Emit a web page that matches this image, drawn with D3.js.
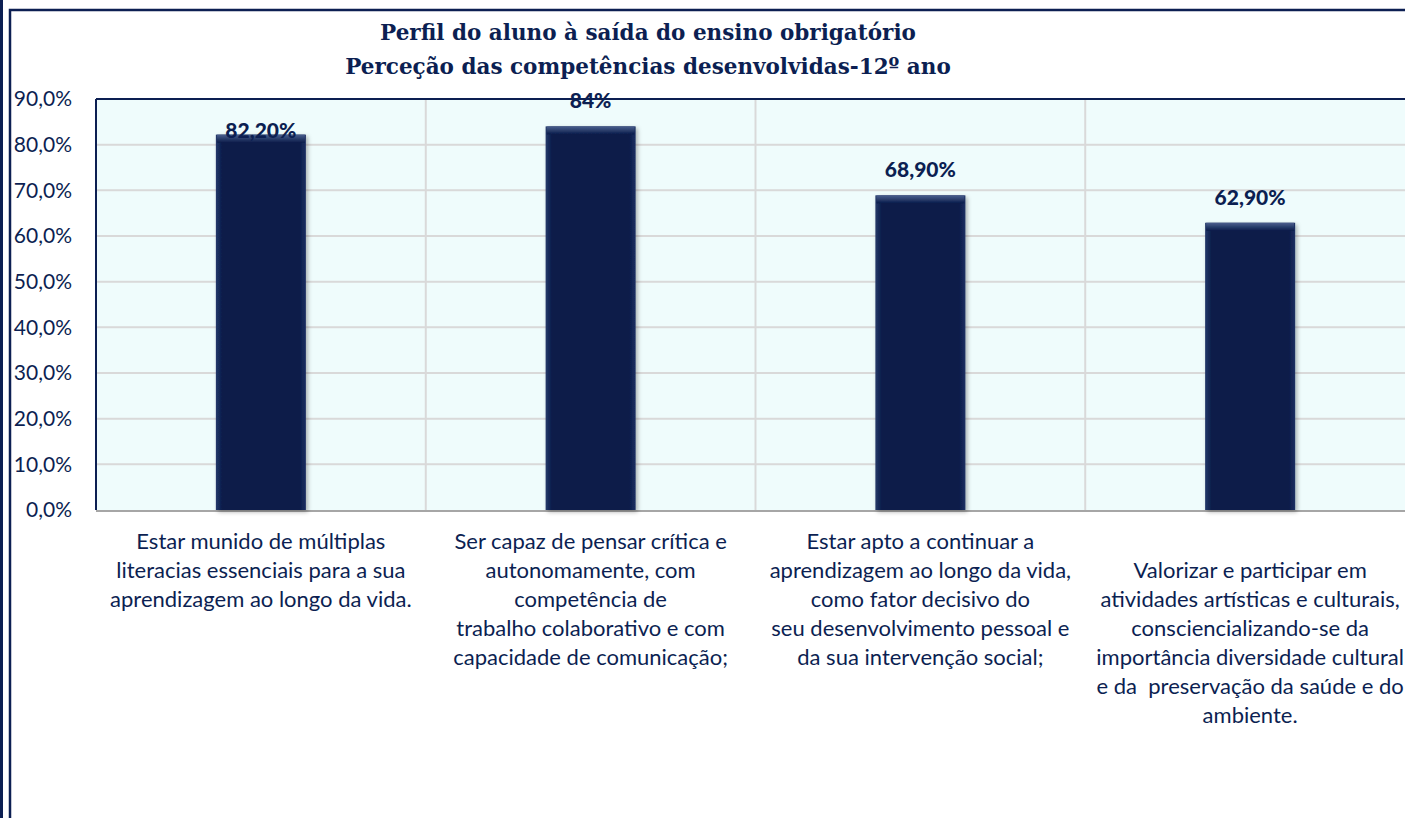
<!DOCTYPE html>
<html>
<head>
<meta charset="utf-8">
<script src="https://cdn.jsdelivr.net/npm/d3@7"></script>
<style>
  body { margin: 0; background: #fff; }
  svg { display: block; }
  .tick-label { font-family: Lato, "Open Sans", sans-serif; font-size: 21px; fill: #0c1f52; }
  .cat-label { font-family: Lato, "Open Sans", sans-serif; font-size: 22px; fill: #0c1f52; white-space: pre; }
  .value-label { font-family: Lato, "Open Sans", sans-serif; font-size: 21px; font-weight: 900; fill: #0c1f52; }
  .title { font-family: "DejaVu Serif", "Liberation Serif", serif; font-size: 21.5px; font-weight: bold; fill: #0c1f52; }
</style>
</head>
<body>
<svg id="chart" width="1405" height="818"></svg>
<script>
const titleLines = [
    "Perfil do aluno à saída do ensino obrigatório",
    "Perceção das competências desenvolvidas-12º ano"
];

const categories = [
    ["Estar munido de múltiplas", "literacias essenciais para a sua", "aprendizagem ao longo da vida."],
    ["Ser capaz de pensar crítica e", "autonomamente, com", "competência de", "trabalho colaborativo e com", "capacidade de comunicação;"],
    ["Estar apto a continuar a", "aprendizagem ao longo da vida,", "como fator decisivo do", "seu desenvolvimento pessoal e", "da sua intervenção social;"],
    ["", "Valorizar e participar em", "atividades artísticas e culturais,", "consciencializando-se da", "importância diversidade cultural", "e da  preservação da saúde e do", "ambiente."]
];

const values = [0.822, 0.84, 0.689, 0.629];
const valueLabels = ["82,20%", "84%", "68,90%", "62,90%"];
const yTicks = [0, 0.1, 0.2, 0.3, 0.4, 0.5, 0.6, 0.7, 0.8, 0.9];

const navy = "#0c1f52";
const svg = d3.select("#chart");

const plot = { left: 96, right: 1415, top: 99, bottom: 510 };

const ptLocale = d3.formatLocale({ decimal: ",", thousands: ".", grouping: [3], currency: ["", " €"] });
const pct = ptLocale.format(".1%");

const x = d3.scaleBand()
    .domain(d3.range(categories.length))
    .range([plot.left, plot.right])
    .paddingInner(0.727)
    .paddingOuter(0.3635);

const y = d3.scaleLinear()
    .domain([0, 0.9])
    .range([plot.bottom, plot.top]);

// gradients for the bevelled bars
const defs = svg.append("defs");
const side = defs.append("linearGradient").attr("id", "barSide").attr("x1", 0).attr("x2", 1).attr("y1", 0).attr("y2", 0);
side.append("stop").attr("offset", "0%").attr("stop-color", "#25396a");
side.append("stop").attr("offset", "7%").attr("stop-color", "#0a1c4a");
side.append("stop").attr("offset", "93%").attr("stop-color", "#0a1c4a");
side.append("stop").attr("offset", "100%").attr("stop-color", "#1d3062");
const topGrad = defs.append("linearGradient").attr("id", "barTop").attr("x1", 0).attr("x2", 0).attr("y1", 0).attr("y2", 1);
topGrad.append("stop").attr("offset", "0%").attr("stop-color", "#4a5f8e");
topGrad.append("stop").attr("offset", "100%").attr("stop-color", "#0a1c4a");
const shadow = defs.append("filter").attr("id", "shadow").attr("x", "-10%").attr("y", "-10%").attr("width", "130%").attr("height", "130%");
shadow.append("feDropShadow").attr("dx", 2).attr("dy", 2).attr("stdDeviation", 2).attr("flood-color", "#000").attr("flood-opacity", 0.3);

// outer frame lines
svg.append("line").attr("x1", 1.5).attr("x2", 1.5).attr("y1", 0).attr("y2", 818)
    .attr("stroke", navy).attr("stroke-width", 3);
svg.append("path").attr("d", "M10,818 V10 H1405")
    .attr("fill", "none").attr("stroke", navy).attr("stroke-width", 2.5);

// plot background
svg.append("rect")
    .attr("x", plot.left).attr("y", plot.top)
    .attr("width", plot.right - plot.left).attr("height", plot.bottom - plot.top)
    .attr("fill", "#effcfc");

// horizontal gridlines
svg.append("g").selectAll("line")
    .data(yTicks.filter(d => d > 0 && d < 0.9))
    .join("line")
    .attr("x1", plot.left).attr("x2", plot.right)
    .attr("y1", d => y(d)).attr("y2", d => y(d))
    .attr("stroke", "#d9d9d9").attr("stroke-width", 2);

// vertical gridlines between categories
svg.append("g").selectAll("line")
    .data(d3.range(1, categories.length + 1))
    .join("line")
    .attr("x1", d => plot.left + d * x.step()).attr("x2", d => plot.left + d * x.step())
    .attr("y1", plot.top).attr("y2", plot.bottom)
    .attr("stroke", "#d9d9d9").attr("stroke-width", 2);

// plot border: top and left dark, bottom axis grey
svg.append("line").attr("x1", plot.left).attr("x2", plot.right).attr("y1", plot.top).attr("y2", plot.top)
    .attr("stroke", navy).attr("stroke-width", 2);
svg.append("line").attr("x1", plot.left).attr("x2", plot.left).attr("y1", plot.top).attr("y2", plot.bottom)
    .attr("stroke", navy).attr("stroke-width", 2);
svg.append("line").attr("x1", plot.left).attr("x2", plot.right).attr("y1", plot.bottom + 1).attr("y2", plot.bottom + 1)
    .attr("stroke", "#a6a6a6").attr("stroke-width", 2);

// y axis labels
svg.append("g").selectAll("text")
    .data(yTicks)
    .join("text")
    .attr("class", "tick-label")
    .attr("x", 72)
    .attr("y", d => y(d))
    .attr("dy", "0.35em")
    .attr("text-anchor", "end")
    .text(d => pct(d));

// bars
const bars = svg.append("g").selectAll("g")
    .data(values)
    .join("g")
    .attr("filter", "url(#shadow)");

bars.append("rect")
    .attr("x", (d, i) => x(i))
    .attr("y", d => y(d))
    .attr("width", x.bandwidth())
    .attr("height", d => plot.bottom - y(d))
    .attr("fill", "url(#barSide)");

bars.append("rect")
    .attr("x", (d, i) => x(i) + 1)
    .attr("y", d => y(d))
    .attr("width", x.bandwidth() - 2)
    .attr("height", 8)
    .attr("fill", "url(#barTop)");

// value labels (the first one sits on the bar top, as in the original)
svg.append("g").selectAll("text")
    .data(values)
    .join("text")
    .attr("class", "value-label")
    .attr("x", (d, i) => x(i) + x.bandwidth() / 2)
    .attr("y", (d, i) => i === 0 ? y(d) + 3 : y(d) - 18)
    .attr("text-anchor", "middle")
    .text((d, i) => valueLabels[i]);

// category labels
const catText = svg.append("g").selectAll("text")
    .data(categories)
    .join("text")
    .attr("class", "cat-label")
    .attr("text-anchor", "middle");

catText.selectAll("tspan")
    .data((d, i) => d.map(line => ({ line, i })))
    .join("tspan")
    .attr("x", d => x(d.i) + x.bandwidth() / 2)
    .attr("y", (d, j) => 549 + j * 29)
    .text(d => d.line);

// title
svg.append("g").selectAll("text")
    .data(titleLines)
    .join("text")
    .attr("class", "title")
    .attr("x", 648)
    .attr("y", (d, i) => 40 + i * 34)
    .attr("text-anchor", "middle")
    .text(d => d);
</script>
</body>
</html>
